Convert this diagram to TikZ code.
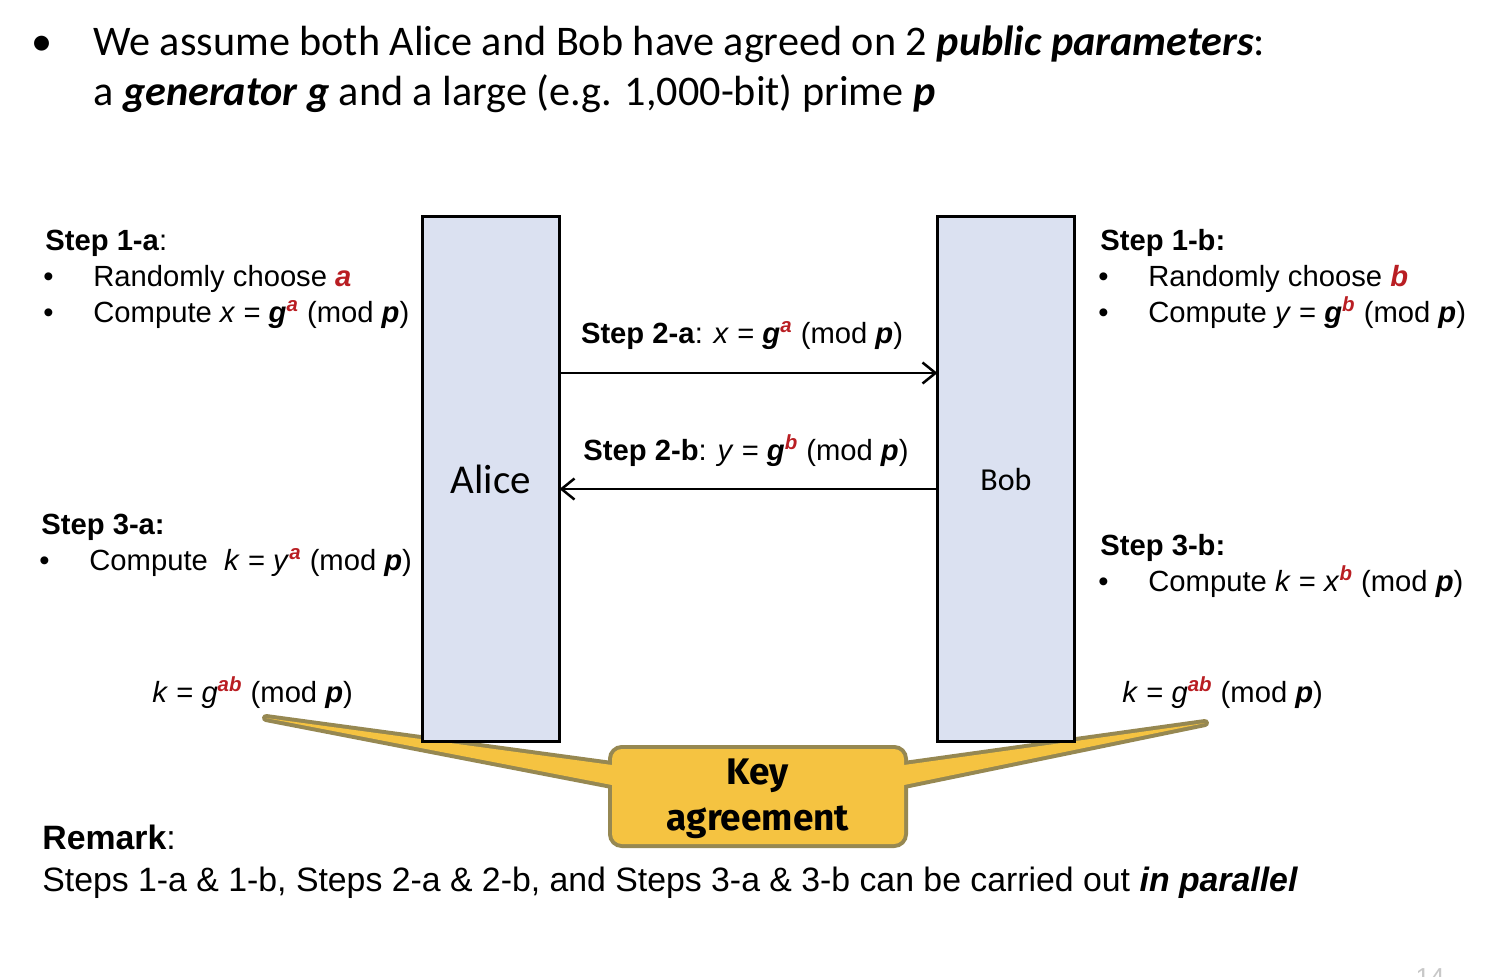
\documentclass[tikz,border=0pt]{standalone}
\usepackage{fontspec}
\setmainfont{Liberation Sans}
\newfontfamily\calibri{Carlito}
\newfontfamily\keyfont{Fira Sans}
\usetikzlibrary{arrows.meta}

\definecolor{boxfill}{RGB}{219,225,241}
\definecolor{keyfill}{RGB}{245,195,65}
\definecolor{keyedge}{RGB}{150,136,82}
\definecolor{keyred}{RGB}{185,30,35}
\definecolor{pagegray}{RGB}{200,200,200}

\newcommand{\bital}[1]{\textbf{\textit{#1}}}
\newcommand{\rsup}[1]{\textsuperscript{\textcolor{keyred}{\bital{#1}}}}
\newcommand{\bul}{\makebox[25pt][l]{\textbullet}}

\begin{document}
\begin{tikzpicture}[x=0.5pt, y=-0.5pt,
        party/.style={draw, line width=1.5pt, fill=boxfill, minimum width=68.5pt,
            minimum height=262.5pt, inner sep=0pt, outer sep=0pt},
        txt/.style={anchor=base west, inner sep=0pt, font=\fontsize{14.6}{18}\selectfont},
        msglabel/.style={txt, anchor=base},
        remark/.style={txt, font=\fontsize{16.9}{21}\selectfont},
        intro/.style={anchor=base west, inner sep=0pt, font=\calibri\fontsize{21.1}{25}\selectfont},
        msg/.style={line width=1.25pt, -{Straight Barb[length=6.5pt, width=10.5pt]}},
        keybox/.style={draw=keyedge, line width=4pt, fill=keyfill, rounded corners=5pt,
            minimum width=146pt, minimum height=47.5pt, inner sep=0pt, outer sep=0pt},
        wedge/.style={draw=keyedge, line width=4pt, fill=keyfill, line join=round}
    ]
    \useasboundingbox (0,0) rectangle (1494,976);
    \clip (0,0) rectangle (1494,976);

    % Parametri pubblici
    \node[intro, anchor=base] (dot) at (42,55) {\textbullet};
    \node[intro] (intro1) at (93,55) {We assume both Alice and Bob have agreed on 2 \bital{public parameters}:};
    \node[intro] (intro2) at (93,105) {a \bital{generator g} and a large (e.g. 1,000-bit) prime \bital{p}};

    % Fumetto "Key agreement"
    \node[keybox] (key) at (758,796.5) {};
    \coordinate (tipL) at (266,718);
    \coordinate (tipR) at (1205,723);
    \filldraw[wedge] (tipL) -- (key.west |- 0,765) -- (key.west |- 0,785) -- cycle;
    \filldraw[wedge] (tipR) -- (key.east |- 0,765) -- (key.east |- 0,785) -- cycle;
    \fill[keyfill] (tipL) -- (key.west |- 0,765) -- (key.west |- 0,785) -- cycle;
    \fill[keyfill] (tipR) -- (key.east |- 0,765) -- (key.east |- 0,785) -- cycle;
    \fill[keyfill, rounded corners=5pt] (key.south west) rectangle (key.north east);
    \node[font=\keyfont\bfseries\fontsize{18.5}{23}\selectfont, align=center, inner sep=0pt]
        (keylbl) at (758,799) {Key\\agreement};

    % Alice e Bob
    \node[party, font=\calibri\fontsize{20.5}{24}\selectfont] (alice) at (491,479) {Alice};
    \node[party, font=\calibri\fontsize{16}{20}\selectfont] (bob) at (1006,479) {Bob};

    % Messaggi
    \draw[msg] (alice.east |- 0,373) -- (bob.west |- 0,373);
    \draw[msg] (bob.west |- 0,489) -- (alice.east |- 0,489);
    \node[msglabel] (m2a) at (742,343) {\textbf{Step 2-a}: \textit{x} = \bital{g}\rsup{a} (mod \bital{p})};
    \node[msglabel] (m2b) at (746,460) {\textbf{Step 2-b}: \textit{y} = \bital{g}\rsup{b} (mod \bital{p})};

    % Passi di Alice
    \node[txt] (s1a) at (45,250) {\textbf{Step 1-a}:};
    \node[txt] (s1a1) at (43,286) {\bul Randomly choose \textcolor{keyred}{\bital{a}}};
    \node[txt] (s1a2) at (43,322) {\bul Compute \textit{x} = \bital{g}\rsup{a} (mod \bital{p})};
    \node[txt] (s3a) at (41,534) {\textbf{Step 3-a:}};
    \node[txt] (s3a1) at (39,570) {\bul Compute\ \ \textit{k} = \textit{y}\rsup{a} (mod \bital{p})};
    \node[txt] (kL) at (152,702) {\textit{k} = \textit{g}\rsup{ab} (mod \bital{p})};

    % Passi di Bob
    \node[txt] (s1b) at (1100,250) {\textbf{Step 1-b:}};
    \node[txt] (s1b1) at (1098,286) {\bul Randomly choose \textcolor{keyred}{\bital{b}}};
    \node[txt] (s1b2) at (1098,322) {\bul Compute \textit{y} = \bital{g}\rsup{b} (mod \bital{p})};
    \node[txt] (s3b) at (1100,555) {\textbf{Step 3-b:}};
    \node[txt] (s3b1) at (1098,591) {\bul Compute \textit{k} = \textit{x}\rsup{b} (mod \bital{p})};
    \node[txt] (kR) at (1122,702) {\textit{k} = \textit{g}\rsup{ab} (mod \bital{p})};

    % Nota
    \node[remark] (rem) at (42,849) {\textbf{Remark}:};
    \node[remark] (rem1) at (42,891) {Steps 1-a \& 1-b, Steps 2-a \& 2-b, and Steps 3-a \& 3-b can be carried out \bital{in parallel}};

    % Numero di pagina
    \node[txt, anchor=base, text=pagegray, font=\fontsize{13}{15}\selectfont] (page) at (1430,986) {14};
\end{tikzpicture}
\end{document}
